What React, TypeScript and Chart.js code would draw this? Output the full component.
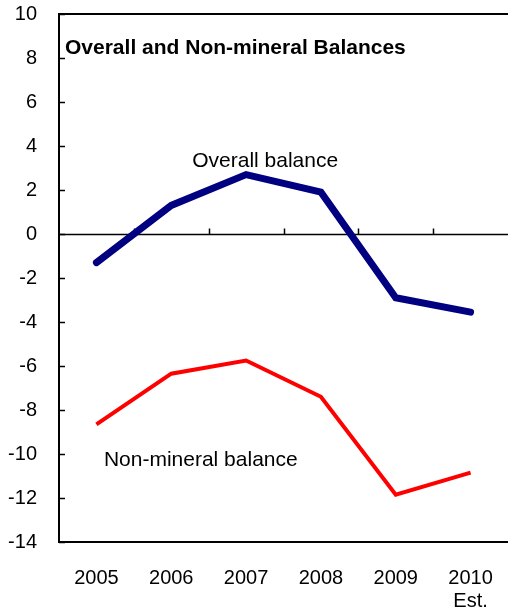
import React, { useEffect, useRef } from "react";
import { Chart, registerables } from "chart.js";

Chart.register(...registerables);

const years: (string | string[])[] = ["2005", "2006", "2007", "2008", "2009", ["2010", "Est."]];
const overallBalance = [-1.3, 1.3, 2.7, 1.9, -2.9, -3.55];
const nonMineralBalance = [-8.65, -6.35, -5.75, -7.4, -11.85, -10.85];
const yMin = -14;
const yMax = 10;
const yStep = 2;
const titleText = "Overall and Non-mineral Balances";
const overallLabel = "Overall balance";
const nonMineralLabel = "Non-mineral balance";

const FONT = "'Liberation Sans', Arial, Helvetica, sans-serif";

const framePlugin = {
  id: "frame",
  beforeDatasetsDraw(chart: any) {
    const { ctx, chartArea, scales } = chart;
    const x = scales.x;
    const y = scales.y;
    ctx.save();
    ctx.strokeStyle = "#000";
    ctx.lineWidth = 2;
    ctx.beginPath();
    ctx.moveTo(chartArea.left, chartArea.top);
    ctx.lineTo(chartArea.right, chartArea.top);
    ctx.stroke();
    ctx.lineWidth = 1.5;
    for (let v = yMin; v <= yMax; v += yStep) {
      const py = Math.round(y.getPixelForValue(v)) + 0.5;
      ctx.beginPath();
      ctx.moveTo(chartArea.left, py);
      ctx.lineTo(chartArea.left + 6, py);
      ctx.stroke();
    }
    const zy = Math.round(y.getPixelForValue(0)) + 0.5;
    ctx.lineWidth = 1.5;
    ctx.beginPath();
    ctx.moveTo(chartArea.left, zy);
    ctx.lineTo(chartArea.right, zy);
    ctx.stroke();
    for (let i = 0; i < years.length - 1; i++) {
      const px = Math.round((x.getPixelForTick(i) + x.getPixelForTick(i + 1)) / 2) + 0.5;
      ctx.beginPath();
      ctx.moveTo(px, zy);
      ctx.lineTo(px, zy - 6);
      ctx.stroke();
    }
    ctx.restore();
  },
  afterDraw(chart: any) {
    const { ctx, chartArea, scales } = chart;
    const x = scales.x;
    const y = scales.y;
    ctx.save();
    ctx.fillStyle = "#000";
    ctx.textAlign = "left";
    ctx.textBaseline = "alphabetic";
    ctx.font = `bold 21px ${FONT}`;
    ctx.fillText(titleText, chartArea.left + 6, y.getPixelForValue(8.2));
    ctx.font = `21px ${FONT}`;
    ctx.fillText(overallLabel, x.getPixelForValue(1.28), y.getPixelForValue(3.05));
    ctx.fillText(nonMineralLabel, x.getPixelForValue(0.1), y.getPixelForValue(-10.55));
    ctx.restore();
  },
};

export default function App() {
  const ref = useRef<HTMLCanvasElement | null>(null);
  useEffect(() => {
    if (!ref.current) return;
    const chart = new Chart(ref.current, {
      type: "line",
      data: {
        labels: years as any,
        datasets: [
          {
            label: nonMineralLabel,
            data: nonMineralBalance,
            borderColor: "#FF0000",
            borderWidth: 4,
            pointRadius: 0,
            tension: 0,
            borderCapStyle: "butt",
            borderJoinStyle: "miter",
          },
          {
            label: overallLabel,
            data: overallBalance,
            borderColor: "#000080",
            borderWidth: 7,
            pointRadius: 0,
            tension: 0,
            borderCapStyle: "round",
            borderJoinStyle: "miter",
          },
        ],
      },
      options: {
        responsive: false,
        animation: false,
        devicePixelRatio: 1,
        layout: { padding: { top: 14, right: 0, left: 0, bottom: 0 } },
        plugins: {
          legend: { display: false },
          tooltip: { enabled: false },
          title: { display: false },
        },
        scales: {
          x: {
            type: "category",
            offset: true,
            grid: { display: false, drawTicks: false },
            border: { display: true, color: "#000", width: 2 },
            ticks: {
              color: "#000",
              font: { family: FONT, size: 20, lineHeight: 1.15 },
              padding: 25,
              maxRotation: 0,
              autoSkip: false,
            },
            afterFit(scale: any) {
              scale.height = 70;
              scale.paddingLeft = 0;
              scale.paddingRight = 0;
            },
          },
          y: {
            min: yMin,
            max: yMax,
            grid: { display: false, drawTicks: false },
            border: { display: true, color: "#000", width: 2 },
            ticks: {
              stepSize: yStep,
              color: "#000",
              font: { family: FONT, size: 20 },
              padding: 22,
            },
            afterFit(scale: any) {
              scale.width = 59;
              scale.paddingTop = 0;
              scale.paddingBottom = 0;
            },
          },
        },
      },
      plugins: [framePlugin],
    });
    return () => chart.destroy();
  }, []);
  return (
    <div style={{ position: "fixed", left: 0, top: 0, width: 508, height: 612, background: "#fff" }}>
      <canvas ref={ref} width={508} height={612} />
    </div>
  );
}
